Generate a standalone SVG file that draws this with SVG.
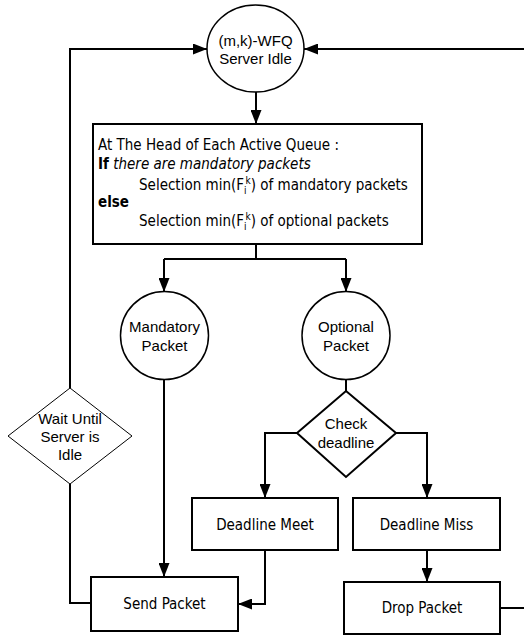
<svg xmlns="http://www.w3.org/2000/svg" width="524" height="635" viewBox="0 0 524 635">
<style>
.shape{fill:#fff;stroke:#000;stroke-width:2}
.circ{fill:#fff;stroke:#000;stroke-width:1.5}
.thin{fill:#fff;stroke:#000;stroke-width:1}
.conn{fill:none;stroke:#000;stroke-width:2}
.arr{marker-end:url(#ah)}
.ta{font-family:"Liberation Sans",Arial,sans-serif;font-size:15px;text-anchor:middle;fill:#000}
.tt{font-family:"DejaVu Sans Condensed","DejaVu Sans",sans-serif;font-stretch:condensed;font-size:15px;fill:#000}
.tc{text-anchor:middle}
.sm{font-size:10px}
</style>
<defs>
<marker id="ah" markerUnits="userSpaceOnUse" markerWidth="14" markerHeight="11" refX="14" refY="5.5" orient="auto">
<path d="M0,0 L14,5.5 L0,11 z" fill="#000"/>
</marker>
</defs>
<g id="connectors">
<path class="conn arr" d="M70,388 V49 H207"/>
<path class="conn arr" d="M500,608 H530 V49 H304"/>
<path class="conn arr" d="M256,92 V124"/>
<path class="conn" d="M256,244 V259 M164,259 H346"/>
<path class="conn arr" d="M164,259 V292"/>
<path class="conn arr" d="M346,259 V292"/>
<path class="conn arr" d="M164,379 V577"/>
<path class="conn" d="M346,379 V391"/>
<path class="conn arr" d="M297,433 H265 V498"/>
<path class="conn arr" d="M396,433 H427 V498"/>
<path class="conn arr" d="M427,551 V582"/>
<path class="conn arr" d="M265,551 V604 H238"/>
<path class="conn" d="M70,484 V603 H91"/>
</g>
<g id="server-idle">
<ellipse class="circ" cx="255.5" cy="48.5" rx="48.5" ry="43.5"/>
<text class="ta" x="255.5" y="45.5">(m,k)-WFQ</text>
<text class="ta" x="255.5" y="64">Server Idle</text>
</g>
<g id="selection">
<rect class="shape" x="93" y="124" width="329" height="120"/>
<text class="tt" x="98" y="150">At The Head of Each Active Queue :</text>
<text class="tt" x="98" y="169"><tspan font-weight="bold">If</tspan> <tspan font-style="italic">there are mandatory packets</tspan></text>
<text class="tt" x="139" y="190">Selection min(F<tspan class="sm" dy="4">i</tspan><tspan class="sm" dx="-1" dy="-10">k</tspan><tspan dy="6">) of mandatory packets</tspan></text>
<text class="tt" x="98" y="207" font-weight="bold">else</text>
<text class="tt" x="139" y="226">Selection min(F<tspan class="sm" dy="4">i</tspan><tspan class="sm" dx="-1" dy="-10">k</tspan><tspan dy="6">) of optional packets</tspan></text>
</g>
<g id="mandatory">
<circle class="circ" cx="164.5" cy="335.5" r="44"/>
<text class="ta" x="164.5" y="331.5">Mandatory</text>
<text class="ta" x="164.5" y="350.5">Packet</text>
</g>
<g id="optional">
<circle class="circ" cx="346" cy="335.5" r="44"/>
<text class="ta" x="346" y="331.5">Optional</text>
<text class="ta" x="346" y="350.5">Packet</text>
</g>
<g id="wait">
<polygon class="thin" points="70,388 132,436 70,484 8,436"/>
<text class="ta" x="70" y="423.5">Wait Until</text>
<text class="ta" x="70" y="441.5">Server is</text>
<text class="ta" x="70" y="459.5">Idle</text>
</g>
<g id="check">
<polygon class="shape" points="346,391 396,433 346,477 297,433"/>
<text class="ta" x="346" y="429">Check</text>
<text class="ta" x="346" y="448">deadline</text>
</g>
<g id="deadline-meet">
<rect class="shape" x="192" y="498" width="146" height="52"/>
<text class="tt tc" x="265" y="530">Deadline Meet</text>
</g>
<g id="deadline-miss">
<rect class="shape" x="353" y="498" width="147" height="52"/>
<text class="tt tc" x="426.5" y="530">Deadline Miss</text>
</g>
<g id="send">
<rect class="shape" x="91" y="577" width="147" height="54"/>
<text class="tt tc" x="164.5" y="608.5">Send Packet</text>
</g>
<g id="drop">
<rect class="shape" x="344" y="582" width="156" height="52"/>
<text class="tt tc" x="422" y="612.5">Drop Packet</text>
</g>
</svg>
